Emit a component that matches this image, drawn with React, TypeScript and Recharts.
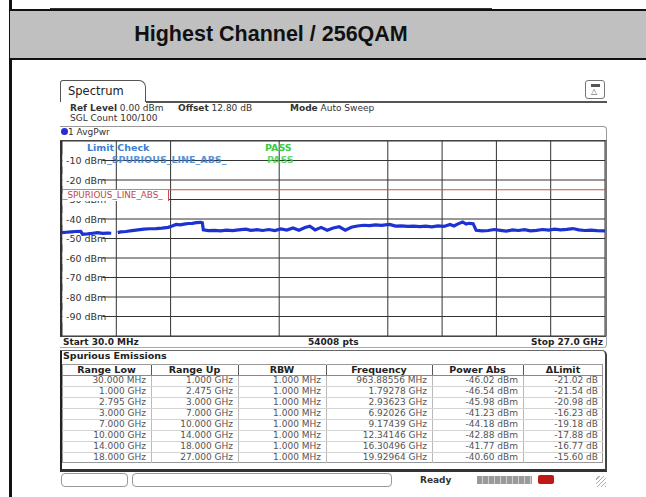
import React from 'react';
import { LineChart, Line, XAxis, YAxis, CartesianGrid, ReferenceLine } from 'recharts';

// trace (GHz / dBm), null = gap between ranges
const freqGHz = [
  0.03, 0.25, 0.5, 0.7, 0.96, 1.05, 1.3, 1.55, 1.79, 2.05, 2.3, 2.475, 2.6,
  2.795, 2.94, 3.2, 3.5, 3.8, 4.1, 4.4, 4.7, 5.0, 5.3, 5.5, 5.7, 5.9, 6.1, 6.3, 6.5, 6.7, 6.92, 7.0,
  7.05, 7.3, 7.6, 7.9, 8.2, 8.5, 8.8, 9.17, 9.4, 9.7, 10.0, 10.3, 10.6, 10.9, 11.2, 11.5, 11.8,
  12.1, 12.34, 12.6, 12.9, 13.2, 13.5, 13.8, 14.1, 14.4, 14.7, 15.0, 15.3, 15.6, 15.9, 16.3,
  16.6, 16.9, 17.2, 17.5, 17.8, 18.1, 18.4, 18.7, 19.0, 19.3, 19.5, 19.7, 19.93, 20.1, 20.25,
  20.45, 20.6, 20.9, 21.2, 21.5, 21.8, 22.1, 22.4, 22.7, 23.0, 23.3, 23.6, 23.9, 24.2, 24.5,
  24.8, 25.1, 25.4, 25.7, 26.0, 26.3, 26.6, 27.0,
];
const levelDbm = [
  -47.0, -46.8, -46.6, -46.4, -46.3, -47.8, -47.6, -47.3, -47.0, -47.4, -47.2, -47.3, null,
  -47.0, -46.6, -46.4, -46.0, -45.6, -45.2, -45.0, -44.9, -44.7, -44.3, -43.6, -42.8, -43.0, -42.6, -42.3, -42.2, -41.9, -41.7, -41.9,
  -45.6, -46.0, -45.8, -46.1, -45.7, -46.0, -45.6, -45.2, -45.8, -45.5, -45.9, -45.4, -45.9, -45.1, -45.7, -44.6, -45.8,
  -44.4, -43.7, -45.6, -44.3, -45.8, -44.6, -44.0, -45.7, -44.2, -43.6, -43.2, -43.4, -43.0, -43.3, -42.8,
  -43.6, -43.5, -43.8, -43.7, -43.9, -43.7, -44.0, -43.5, -43.8, -42.8, -43.6, -42.5, -41.5, -42.6, -42.2,
  -42.4, -45.8, -46.1, -45.9, -45.4, -45.8, -46.2, -45.6, -45.9, -45.5, -46.1, -45.8, -45.4, -45.7, -45.2,
  -45.6, -45.3, -44.9, -45.6, -45.9, -45.7, -46.0, -46.1,
];

const levelTicks = [-90, -80, -70, -60, -50, -40, -30, -20, -10];
const startGHz = 0.03;
const stopGHz = 27;
const limitDbm = -25;
const limitName = '_SPURIOUS_LINE_ABS_';

const rangeLow = ['30.000 MHz', '1.000 GHz', '2.795 GHz', '3.000 GHz', '7.000 GHz', '10.000 GHz', '14.000 GHz', '18.000 GHz'];
const rangeUp = ['1.000 GHz', '2.475 GHz', '3.000 GHz', '7.000 GHz', '10.000 GHz', '14.000 GHz', '18.000 GHz', '27.000 GHz'];
const rbw = ['1.000 MHz', '1.000 MHz', '1.000 MHz', '1.000 MHz', '1.000 MHz', '1.000 MHz', '1.000 MHz', '1.000 MHz'];
const peakFreq = ['963.88556 MHz', '1.79278 GHz', '2.93623 GHz', '6.92026 GHz', '9.17439 GHz', '12.34146 GHz', '16.30496 GHz', '19.92964 GHz'];
const powerAbs = ['-46.02 dBm', '-46.54 dBm', '-45.98 dBm', '-41.23 dBm', '-44.18 dBm', '-42.88 dBm', '-41.77 dBm', '-40.60 dBm'];
const deltaLimit = ['-21.02 dB', '-21.54 dB', '-20.98 dB', '-16.23 dB', '-19.18 dB', '-17.88 dB', '-16.77 dB', '-15.60 dB'];

const trace = freqGHz.map((f, i) => ({ f, v: levelDbm[i] }));
const gridX = Array.from({ length: 9 }, (_, i) => startGHz + ((i + 1) * (stopGHz - startGHz)) / 10);

const FONT = '"DejaVu Sans", Verdana, sans-serif';

const PLOT_TOP = 141;
const PLOT_H = 195;

const LevelLabel = (props: any) => {
  const vb = props.viewBox || { x: 0, y: 0 };
  return (
    <g>
      <rect x={vb.x + 0.5} y={vb.y - 6} width={40} height={12} fill="#fff" />
      <text x={vb.x + 4} y={vb.y + 3.5} fontSize={9.5} fill="#333" fontFamily={FONT}>
        {props.level} dBm
      </text>
    </g>
  );
};

const columns = [
  { title: 'Range Low', left: 62, right: 151, values: rangeLow },
  { title: 'Range Up', left: 151, right: 238, values: rangeUp },
  { title: 'RBW', left: 238, right: 326, values: rbw },
  { title: 'Frequency', left: 326, right: 432, values: peakFreq },
  { title: 'Power Abs', left: 432, right: 523, values: powerAbs },
  { title: '\u0394Limit', left: 523, right: 603, values: deltaLimit },
];

const abs = (s: React.CSSProperties): React.CSSProperties => ({ position: 'absolute', ...s });

export default function App() {
  const tableTop = 364;
  const rowH = 11;
  const limitY = PLOT_TOP + (-limitDbm / 100) * PLOT_H;
  return (
    <div style={abs({ left: 0, top: 0, width: 646, height: 497, background: '#fff', overflow: 'hidden', fontFamily: FONT })}>
      {/* page frame and title */}
      <div style={abs({ left: 9, top: 0, width: 3, height: 497, background: '#111' })} />
      <div style={abs({ left: 50, top: 8, width: 442, height: 1, background: '#333' })} />
      <div style={abs({ left: 10, top: 9, width: 636, height: 51, background: '#c0c0c0', borderTop: '2px solid #111', borderBottom: '2px solid #111', boxSizing: 'border-box' })} />
      <div style={abs({ left: 70, top: 22, width: 402, textAlign: 'center', fontFamily: '"Liberation Sans", Arial, sans-serif', fontWeight: 'bold', fontSize: 21.5, color: '#111', lineHeight: '25px' })}>
        Highest Channel / 256QAM
      </div>

      {/* screen header */}
      <div style={abs({ left: 60, top: 80, width: 86, height: 22, border: '1px solid #555', borderBottom: 'none', borderRadius: '3px 7px 0 0', boxSizing: 'border-box' })} />
      <div style={abs({ left: 68, top: 84, fontSize: 11.5, color: '#222', fontWeight: 500 })}>Spectrum</div>
      <div style={abs({ left: 146, top: 101, width: 461, height: 2, background: '#555' })} />
      <div style={abs({ left: 585, top: 80, width: 20, height: 19, border: '1px solid #777', borderRadius: 3, boxSizing: 'border-box' })}>
        <div style={abs({ left: 5, top: 3, width: 9, height: 3, background: '#555' })} />
        <div style={abs({ left: 5, top: 7, fontSize: 8, color: '#555', lineHeight: '8px' })}>{'\u25b3'}</div>
      </div>
      <div style={abs({ left: 70, top: 103, fontSize: 9, color: '#333', whiteSpace: 'pre', lineHeight: '11px' })}>
        <b>Ref Level</b> 0.00 dBm
      </div>
      <div style={abs({ left: 178, top: 103, fontSize: 9, color: '#333', whiteSpace: 'pre', lineHeight: '11px' })}>
        <b>Offset</b> 12.80 dB
      </div>
      <div style={abs({ left: 290, top: 103, fontSize: 9, color: '#333', whiteSpace: 'pre', lineHeight: '11px' })}>
        <b>Mode</b> Auto Sweep
      </div>
      <div style={abs({ left: 70, top: 113, fontSize: 9, color: '#333', lineHeight: '11px' })}>SGL Count 100/100</div>

      {/* trace label row */}
      <div style={abs({ left: 60, top: 126, width: 547, height: 16, borderTop: '1px solid #999', borderRight: '1px solid #999', borderRadius: '0 4px 0 0', boxSizing: 'border-box' })} />
      <div style={abs({ left: 61, top: 128, width: 7, height: 7, borderRadius: 4, background: '#2a2ad6' })} />
      <div style={abs({ left: 68, top: 126, fontSize: 9, color: '#333', lineHeight: '12px' })}>1 AvgPwr</div>

      {/* plot */}
      <div style={abs({ left: 62, top: PLOT_TOP, width: 543, height: PLOT_H })}>
        <LineChart width={543} height={PLOT_H} data={trace} margin={{ top: 0, right: 0, bottom: 0, left: 0 }}>
          <CartesianGrid stroke="#333" strokeWidth={1} />
          <XAxis dataKey="f" type="number" domain={[startGHz, stopGHz]} ticks={gridX} hide allowDataOverflow />
          <YAxis type="number" domain={[-100, 0]} ticks={levelTicks} interval={0} hide />
          {levelTicks.map((t) => (
            <ReferenceLine key={t} y={t} stroke="none" label={<LevelLabel level={t} />} />
          ))}
          <ReferenceLine y={limitDbm} stroke="#c85050" strokeWidth={1} />
          <Line
            type="linear"
            dataKey="v"
            stroke="#1d32d2"
            strokeWidth={3.2}
            dot={false}
            connectNulls={false}
            isAnimationActive={false}
            zIndex={2500}
          />
        </LineChart>
      </div>
      {/* limit line name */}
      <div style={abs({ left: 63, top: limitY + 0.5, width: 105, height: 10.5, background: '#fff', borderRight: '1px solid #c85050', fontSize: 8.8, color: '#c04848', lineHeight: '11px', whiteSpace: 'nowrap', overflow: 'hidden' })}>
        {limitName}
      </div>
      <div style={abs({ left: 60, top: 140, width: 547, height: 197, borderLeft: '2px solid #333', borderRight: '2px solid #777', borderTop: '1px solid #444', borderBottom: '1px solid #444', boxSizing: 'border-box' })} />
      <div style={abs({ left: 87, top: 142, fontSize: 9.5, fontWeight: 'bold', color: '#3a7fd0' })}>Limit Check</div>
      <div style={abs({ left: 107, top: 154, fontSize: 9.5, fontWeight: 'bold', color: '#3a7fd0', opacity: 0.85 })}>{limitName}</div>
      <div style={abs({ left: 265, top: 142, fontSize: 9.5, fontWeight: 'bold', color: '#3ccc3c' })}>PASS</div>
      <div style={abs({ left: 267, top: 154, fontSize: 9.5, fontWeight: 'bold', color: '#3ccc3c', opacity: 0.8 })}>PASS</div>

      {/* x axis bar */}
      <div style={abs({ left: 60, top: 336, width: 547, height: 12, borderBottom: '1px solid #aaa', borderRight: '1px solid #aaa', borderRadius: '0 0 4px 0', boxSizing: 'border-box' })} />
      <div style={abs({ left: 63, top: 336, fontSize: 9, fontWeight: 'bold', color: '#222', lineHeight: '12px' })}>Start 30.0 MHz</div>
      <div style={abs({ left: 308, top: 336, fontSize: 9, fontWeight: 'bold', color: '#222', lineHeight: '12px' })}>54008 pts</div>
      <div style={abs({ left: 480, top: 336, width: 123, textAlign: 'right', fontSize: 9, fontWeight: 'bold', color: '#222', lineHeight: '12px' })}>Stop 27.0 GHz</div>

      {/* result table */}
      <div style={abs({ left: 60, top: 350, width: 547, height: 122, borderLeft: '2px solid #222', borderRight: '2px solid #444', borderTop: '1px solid #666', borderBottom: '3px solid #333', borderRadius: '0 5px 0 0', boxSizing: 'border-box' })} />
      <div style={abs({ left: 63, top: 350, fontSize: 9.5, fontWeight: 'bold', color: '#222', lineHeight: '12px' })}>Spurious Emissions</div>
      <div style={abs({ left: 62, top: tableTop, width: 541, height: rowH * 9, border: '1px solid #999', boxSizing: 'border-box' })} />
      {columns.map((c, ci) => (
        <React.Fragment key={c.title}>
          {ci > 0 && <div style={abs({ left: c.left, top: tableTop, width: 1, height: rowH * 9, background: '#bbb' })} />}
          {ci > 0 && <div style={abs({ left: c.left, top: tableTop + 1, width: 1, height: rowH - 1, background: '#555' })} />}
          <div style={abs({ left: c.left, top: tableTop, width: c.right - c.left, textAlign: 'center', fontSize: 9.5, fontWeight: 'bold', color: '#222', lineHeight: `${rowH}px` })}>
            {c.title}
          </div>
          {c.values.map((v, ri) => (
            <div
              key={ri}
              style={abs({ left: c.left, top: tableTop + rowH * (ri + 1), width: c.right - c.left - 5, textAlign: 'right', fontSize: 9, color: '#555', lineHeight: `${rowH}px`, whiteSpace: 'nowrap' })}
            >
              {v}
            </div>
          ))}
        </React.Fragment>
      ))}
      {rangeLow.map((_, ri) => (
        <div key={ri} style={abs({ left: 62, top: tableTop + rowH * (ri + 1), width: 541, height: 1, background: ri === 0 ? '#888' : '#d4d4d4' })} />
      ))}

      {/* status bar */}
      <div style={abs({ left: 61, top: 473, width: 67, height: 14, border: '1px solid #999', borderRadius: 4, boxSizing: 'border-box' })} />
      <div style={abs({ left: 132, top: 473, width: 260, height: 14, border: '1px solid #999', borderRadius: 4, boxSizing: 'border-box' })} />
      <div style={abs({ left: 420, top: 474, fontSize: 9, fontWeight: 'bold', color: '#333', lineHeight: '12px' })}>Ready</div>
      <div style={abs({ left: 477, top: 476, width: 55, height: 8, background: 'repeating-linear-gradient(90deg, #9a9a9a 0 5px, #d0d0d0 5px 6px)' })} />
      <div style={abs({ left: 538, top: 475, width: 16, height: 9, background: '#c01818', borderRadius: 2 })} />
      <div style={abs({ left: 596, top: 476, width: 10, height: 11, background: 'repeating-linear-gradient(135deg, transparent 0 2px, #aaa 2px 3px)' })} />
    </div>
  );
}
